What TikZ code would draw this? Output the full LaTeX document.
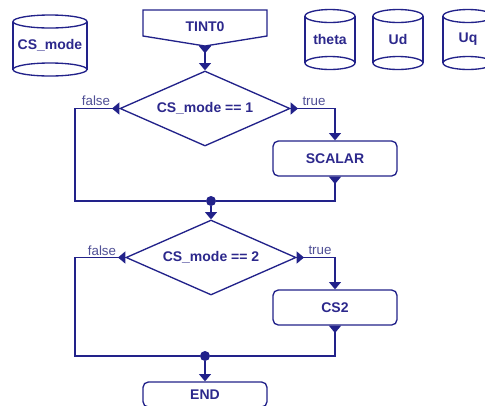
\documentclass[tikz,border=0pt]{standalone}
\usepackage{fontspec}
\setmainfont{Liberation Sans}
\usetikzlibrary{shapes.geometric,arrows.meta}

\definecolor{flowline}{RGB}{34,34,138}
\definecolor{flowtext}{RGB}{44,40,140}
\definecolor{flowlabel}{RGB}{80,80,150}

\tikzset{
  line/.style={draw=flowline, line width=1pt},
  conn/.style={line, arrows={-}},
  tipin/.style={-{Triangle[length=5.5pt,width=9pt]}},
  tipout/.style={{Triangle[reversed,length=5.5pt,width=9pt]}-},
  tipboth/.style={{Triangle[reversed,length=5.5pt,width=9pt]}-{Triangle[length=5.5pt,width=9pt]}},
  txt/.style={text=flowtext, font=\fontsize{10.5}{12}\selectfont\bfseries},
  branchlabel/.style={text=flowlabel, font=\fontsize{10}{12}\selectfont, inner sep=0pt},
  decision/.style={diamond, line, fill=white, txt, inner sep=0pt, aspect=2.27,
                   minimum width=127.5pt, minimum height=56.25pt},
  process/.style={rectangle, rounded corners=4pt, line, fill=white, txt,
                  minimum width=93pt, minimum height=26.25pt, inner sep=0pt},
  junction/.style={circle, fill=flowline, inner sep=0pt, minimum size=7.5pt},
  pics/store/.style n args={4}{code={
    % #1 half width, #2 half height between rim centres, #3 rim radius, #4 label (px)
    \draw[line] (-#1,-#2) -- (-#1,#2) (#1,-#2) -- (#1,#2);
    \draw[line] (0,-#2) ellipse [x radius={#1*0.75pt}, y radius={#3*0.75pt}];
    \draw[line] (0,#2) ellipse [x radius={#1*0.75pt}, y radius={#3*0.75pt}];
    \node[txt] (-label) at (0,0) {#4};
  }}
}

\begin{document}
\begin{tikzpicture}[x=0.75pt, y=-0.75pt]
  \useasboundingbox[fill=white] (0,0) rectangle (485,405);

  % data stores
  \pic (csmode) at (50,45.5) {store={37}{24}{6.5}{CS\_mode}};
  \pic (theta)  at (330,39.5) {store={25}{23.5}{6.5}{theta}};
  \pic (ud)     at (398,39.5) {store={25}{23.5}{6.5}{Ud}};
  \pic (uq)     at (468,39.5) {store={25}{23.5}{6.5}{Uq}};

  % timer interrupt entry
  \draw[line, fill=white] (143,10) -- (267,10) -- (267,36) -- (205,46) -- (143,36) -- cycle;
  \node[txt] (tint) at (205,27) {TINT0};
  \coordinate (tintout) at (205,46);

  % first decision
  \node[decision] (d1) at (205,108.5) {CS\_mode == 1};
  \node[process] (scalar) at (335,158.5) {SCALAR};
  \node[junction] (j1) at (211,201) {};
  \coordinate (l1) at (75,201);

  % second decision
  \node[decision] (d2) at (211,257.5) {CS\_mode == 2};
  \node[process] (cs2) at (335,307.5) {CS2};
  \node[junction] (j2) at (205,356) {};
  \coordinate (l2) at (75,356);

  % end block, running past the lower edge
  \node[process, minimum height=18.75pt] (end) at (205,394.5) {END};

  % connectors
  \draw[conn, tipboth] (tintout) -- (d1.north);
  \draw[conn, tipboth] (d1.east) -| (scalar.north);
  \draw[conn, tipout] (d1.west) -| (l1) -- (j1);
  \draw[conn, tipout] (scalar.south) |- (j1);
  \draw[conn, tipin] (j1) -- (d2.north);

  \draw[conn, tipboth] (d2.east) -| (cs2.north);
  \draw[conn, tipout] (d2.west) -| (l2) -- (j2);
  \draw[conn, tipout] (cs2.south) |- (j2);
  \draw[conn, tipin] (j2) -- (end.north);

  % branch labels
  \node[branchlabel] (f1) at (96,101) {false};
  \node[branchlabel] (t1) at (314,101) {true};
  \node[branchlabel] (f2) at (102,250.5) {false};
  \node[branchlabel] (t2) at (320,250.5) {true};
\end{tikzpicture}
\end{document}
